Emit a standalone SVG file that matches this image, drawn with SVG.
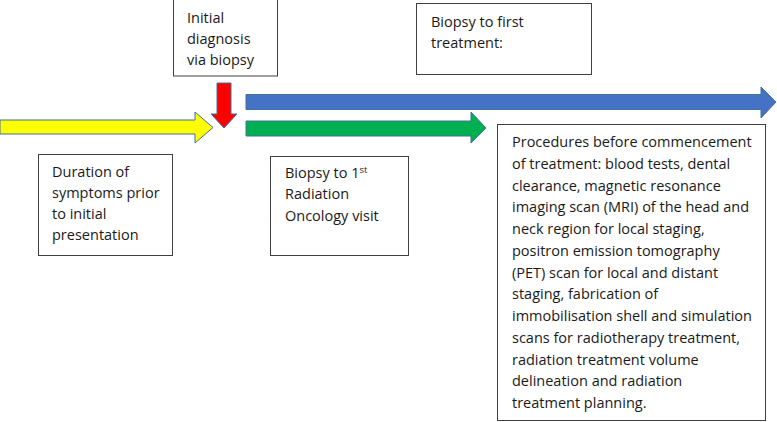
<svg xmlns="http://www.w3.org/2000/svg" width="777" height="422" viewBox="0 0 777 422">
<style>
.box{fill:#fff;stroke:#404040;stroke-width:1}
.t{font-family:"Open Sans","Liberation Sans",sans-serif;font-size:14.5px;fill:#1a1a1a}
.arr{stroke:#41719C;stroke-width:1}
</style>
<rect width="777" height="422" fill="#fff"/>
<g id="connectors">
<path class="arr" fill="#FFFF00" d="M0,120 L195,120 L195,112 L213,127.5 L195,143 L195,134 L0,134 Z"/>
<path class="arr" fill="#FF0000" d="M217,83 L231,83 L231,114 L237,114 L224,128 L211,114 L217,114 Z"/>
<path class="arr" fill="#4472C4" d="M246,94.5 L761,94.5 L761,87 L776,102 L761,118 L761,109.5 L246,109.5 Z"/>
<path class="arr" fill="#00B050" d="M246,121 L471,121 L471,112 L486,128 L471,143 L471,136 L246,136 Z"/>
</g>
<g id="initial">
<rect class="box" x="173.5" y="-1" width="104" height="77"/>
<text class="t" x="187" y="23">Initial</text>
<text class="t" x="187" y="44">diagnosis</text>
<text class="t" x="187" y="65">via biopsy</text>
</g>
<g id="biopsy-first-treatment">
<rect class="box" x="416.5" y="3.5" width="175" height="71"/>
<text class="t" x="431" y="27">Biopsy to first</text>
<text class="t" x="431" y="48">treatment:</text>
</g>
<g id="duration">
<rect class="box" x="38.5" y="154.5" width="134" height="101"/>
<text class="t" x="52" y="177">Duration of</text>
<text class="t" x="52" y="198">symptoms prior</text>
<text class="t" x="52" y="219">to initial</text>
<text class="t" x="52" y="240">presentation</text>
</g>
<g id="biopsy-radiation">
<rect class="box" x="270.5" y="156.5" width="138" height="99"/>
<text class="t" x="285" y="178">Biopsy to 1<tspan font-size="9.5" dy="-5">st</tspan></text>
<text class="t" x="285" y="199">Radiation</text>
<text class="t" x="285" y="221">Oncology visit</text>
</g>
<g id="procedures">
<rect class="box" x="497.5" y="124.5" width="268" height="296"/>
<text class="t" x="512" y="147">Procedures before commencement</text>
<text class="t" x="512" y="168.75">of treatment: blood tests, dental</text>
<text class="t" x="512" y="190.5">clearance, magnetic resonance</text>
<text class="t" x="512" y="212.25">imaging scan (MRI) of the head and</text>
<text class="t" x="512" y="234">neck region for local staging,</text>
<text class="t" x="512" y="255.75">positron emission tomography</text>
<text class="t" x="512" y="277.5">(PET) scan for local and distant</text>
<text class="t" x="512" y="299.25">staging, fabrication of</text>
<text class="t" x="512" y="321">immobilisation shell and simulation</text>
<text class="t" x="512" y="342.75">scans for radiotherapy treatment,</text>
<text class="t" x="512" y="364.5">radiation treatment volume</text>
<text class="t" x="512" y="386.25">delineation and radiation</text>
<text class="t" x="512" y="408">treatment planning.</text>
</g>
</svg>
